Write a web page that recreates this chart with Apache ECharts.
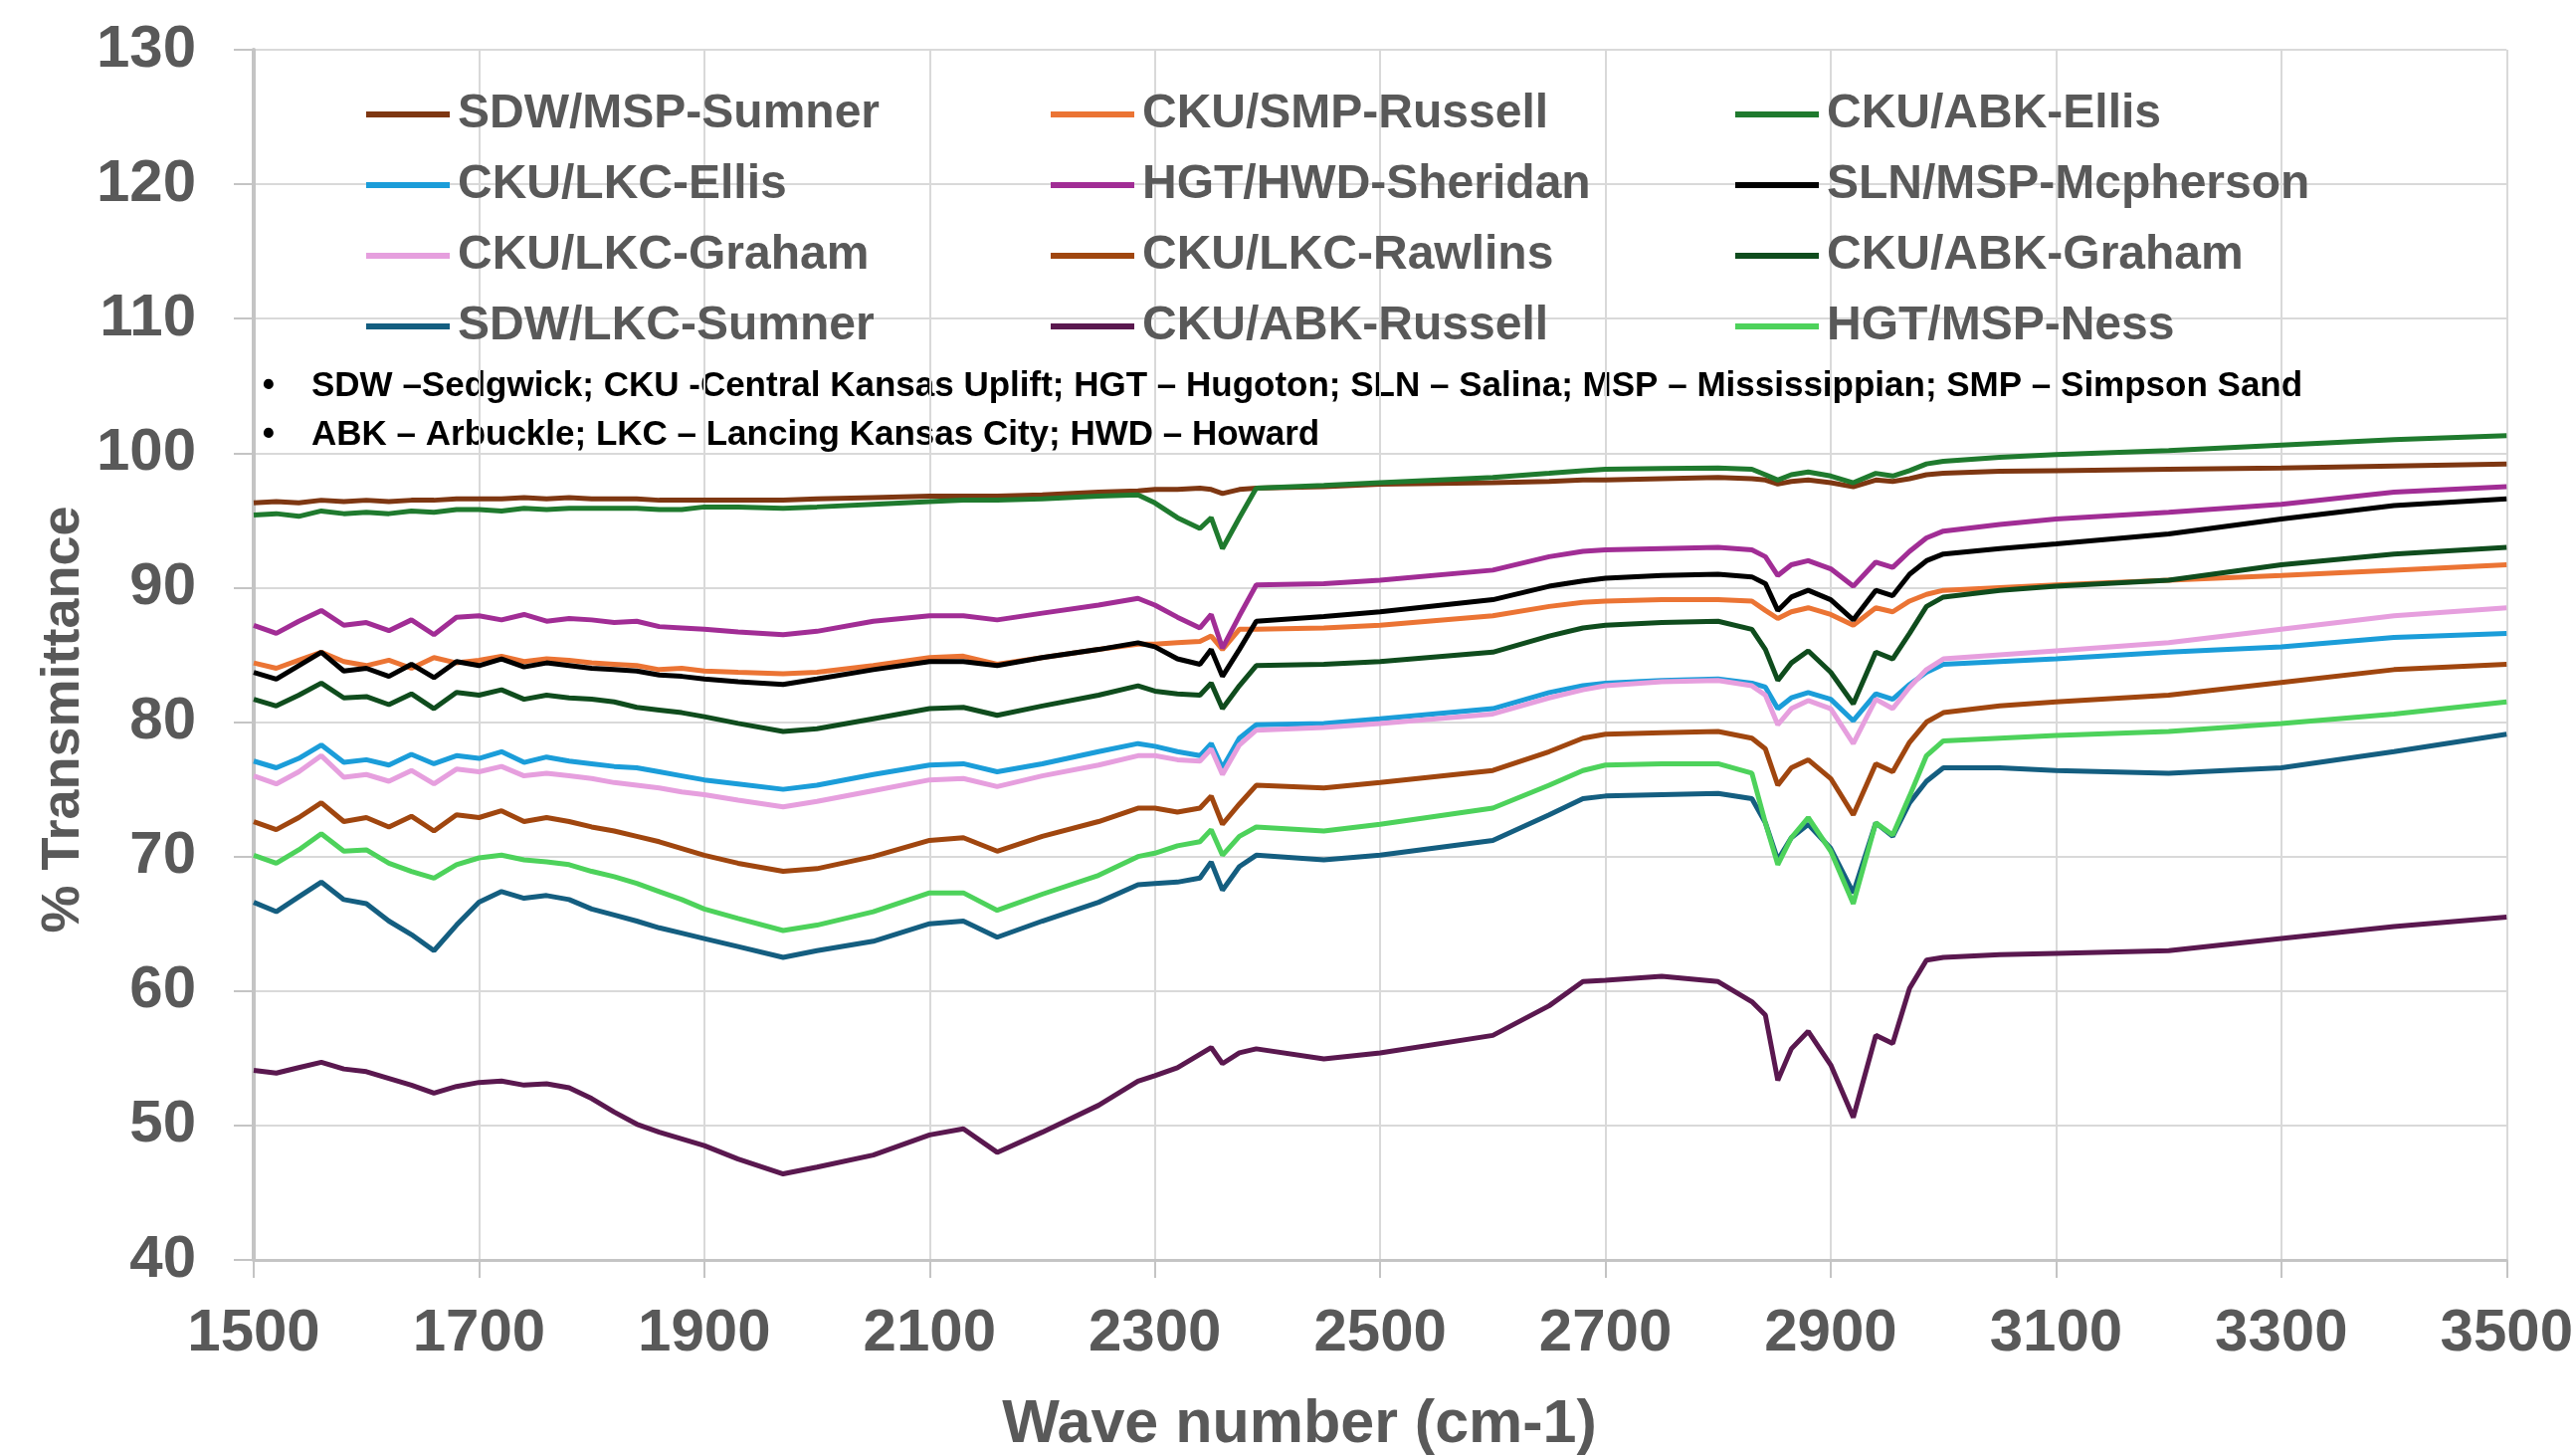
<!DOCTYPE html>
<html>
<head>
<meta charset="utf-8">
<title>FTIR transmittance</title>
<script src="https://cdn.jsdelivr.net/npm/echarts@6/dist/echarts.min.js"></script>
<style>
  html, body { margin: 0; padding: 0; background: #fff; }
  #main { width: 2589px; height: 1462px; }
</style>
</head>
<body>
<div id="main"></div>
<script>
// wave numbers (cm-1) shared by every spectrum
var wn = [1500,1520,1540,1560,1580,1600,1620,1640,1660,1680,1700,1720,1740,1760,1780,1800,1820,1840,1860,1880,
  1900,1930,1970,2000,2050,2100,2130,2160,2200,2250,
  2285,2300,2320,2340,2350,2360,2375,2390,
  2450,2500,2600,2650,2680,2700,2750,2800,2830,
  2842,2853,2865,2880,2900,2920,2940,2955,2970,2985,
  3000,3050,3100,3200,3300,3400,3500];

var sdwMspSumner = [96.3,96.4,96.3,96.5,96.4,96.5,96.4,96.5,96.5,96.6,96.6,96.6,96.7,96.6,96.7,96.6,96.6,96.6,96.5,96.5,
  96.5,96.5,96.5,96.6,96.7,96.8,96.8,96.8,96.9,97.1,
  97.2,97.3,97.3,97.4,97.3,97.0,97.3,97.4,
  97.5,97.7,97.8,97.9,98.0,98.0,98.1,98.2,98.1,
  98.0,97.7,97.9,98.0,97.8,97.5,98.0,97.9,98.1,98.4,
  98.5,98.65,98.7,98.8,98.9,99.05,99.2];
var ckuSmpRussell = [84.4,84.0,84.6,85.2,84.5,84.2,84.6,84.0,84.8,84.4,84.6,84.9,84.5,84.7,84.6,84.4,84.3,84.2,83.9,84.0,
  83.8,83.7,83.6,83.7,84.2,84.8,84.9,84.3,84.8,85.4,
  85.8,85.8,85.9,86.0,86.4,85.4,86.9,86.9,
  87.0,87.2,87.9,88.6,88.9,89.0,89.1,89.1,89.0,
  88.3,87.7,88.2,88.5,88.0,87.2,88.5,88.2,89.0,89.5,
  89.8,90.0,90.2,90.55,90.9,91.3,91.7];
var ckuAbkEllis = [95.4,95.5,95.3,95.7,95.5,95.6,95.5,95.7,95.6,95.8,95.8,95.7,95.9,95.8,95.9,95.9,95.9,95.9,95.8,95.8,
  96.0,96.0,95.9,96.0,96.2,96.4,96.5,96.5,96.6,96.8,
  96.9,96.3,95.2,94.4,95.2,92.9,95.2,97.4,
  97.6,97.8,98.2,98.5,98.7,98.8,98.85,98.9,98.8,
  98.4,98.0,98.4,98.6,98.3,97.8,98.5,98.3,98.7,99.2,
  99.4,99.7,99.9,100.2,100.6,101.0,101.3];
var ckuLkcEllis = [77.1,76.6,77.3,78.3,77.0,77.2,76.8,77.6,76.9,77.5,77.3,77.8,77.0,77.4,77.1,76.9,76.7,76.6,76.3,76.0,
  75.7,75.4,75.0,75.3,76.1,76.8,76.9,76.3,76.9,77.8,
  78.4,78.2,77.8,77.5,78.4,76.6,78.8,79.8,
  79.9,80.25,81.0,82.2,82.7,82.9,83.1,83.2,82.9,
  82.6,81.0,81.8,82.2,81.7,80.1,82.1,81.7,82.8,83.7,
  84.3,84.5,84.7,85.2,85.6,86.3,86.6];
var hgtHwdSheridan = [87.2,86.6,87.5,88.3,87.2,87.4,86.8,87.6,86.5,87.8,87.9,87.6,88.0,87.5,87.7,87.6,87.4,87.5,87.1,87.0,
  86.9,86.7,86.5,86.75,87.5,87.9,87.9,87.6,88.1,88.7,
  89.2,88.7,87.8,87.0,88.0,85.5,87.9,90.2,
  90.3,90.55,91.3,92.3,92.7,92.8,92.9,93.0,92.8,
  92.3,90.9,91.7,92.0,91.4,90.1,91.9,91.5,92.7,93.7,
  94.2,94.7,95.1,95.6,96.2,97.1,97.5];
var slnMspMcpherson = [83.7,83.2,84.2,85.2,83.8,84.0,83.4,84.3,83.3,84.5,84.2,84.7,84.1,84.4,84.2,84.0,83.9,83.8,83.5,83.4,
  83.2,83.0,82.8,83.2,83.9,84.5,84.5,84.2,84.8,85.4,
  85.9,85.6,84.7,84.3,85.4,83.4,85.4,87.5,
  87.85,88.2,89.1,90.1,90.5,90.7,90.9,91.0,90.8,
  90.3,88.3,89.3,89.8,89.1,87.6,89.8,89.4,91.0,92.0,
  92.5,92.9,93.25,94.0,95.1,96.1,96.6];
var ckuLkcGraham = [76.0,75.4,76.3,77.5,75.9,76.1,75.6,76.4,75.4,76.5,76.3,76.7,76.0,76.2,76.0,75.8,75.5,75.3,75.1,74.8,
  74.6,74.2,73.7,74.1,74.9,75.7,75.8,75.2,76.0,76.8,
  77.5,77.5,77.2,77.1,78.0,76.1,78.3,79.4,
  79.6,79.9,80.6,81.8,82.4,82.7,83.0,83.1,82.7,
  82.0,79.8,81.0,81.6,81.0,78.4,81.7,81.0,82.6,83.9,
  84.7,85.0,85.3,85.9,86.9,87.9,88.5];
var ckuLkcRawlins = [72.6,72.0,72.9,74.0,72.6,72.9,72.2,73.0,71.9,73.1,72.9,73.4,72.6,72.9,72.6,72.2,71.9,71.5,71.1,70.6,
  70.1,69.5,68.9,69.1,70.0,71.2,71.4,70.4,71.5,72.6,
  73.6,73.6,73.3,73.6,74.5,72.4,73.9,75.3,
  75.1,75.5,76.4,77.8,78.8,79.1,79.2,79.3,78.8,
  78.0,75.3,76.6,77.2,75.8,73.1,76.9,76.3,78.5,80.0,
  80.7,81.2,81.5,82.0,82.95,83.9,84.3];
var ckuAbkGraham = [81.7,81.2,82.0,82.9,81.8,81.9,81.3,82.1,81.0,82.2,82.0,82.4,81.7,82.0,81.8,81.7,81.5,81.1,80.9,80.7,
  80.4,79.9,79.3,79.5,80.25,81.0,81.1,80.5,81.2,82.0,
  82.7,82.3,82.1,82.0,82.9,81.0,82.7,84.2,
  84.3,84.5,85.2,86.4,87.0,87.2,87.4,87.5,86.9,
  85.4,83.1,84.4,85.3,83.7,81.35,85.2,84.7,86.6,88.6,
  89.3,89.8,90.1,90.55,91.7,92.5,93.0];
var sdwLkcSumner = [66.6,65.9,67.0,68.1,66.8,66.5,65.2,64.2,63.0,64.9,66.6,67.4,66.9,67.1,66.8,66.1,65.65,65.2,64.7,64.3,
  63.9,63.3,62.5,63.0,63.7,65.0,65.2,64.0,65.2,66.6,
  67.9,68.0,68.1,68.4,69.6,67.5,69.25,70.1,
  69.75,70.1,71.2,73.1,74.3,74.5,74.6,74.7,74.3,
  72.5,69.75,71.4,72.4,70.6,67.3,72.5,71.5,74.0,75.6,
  76.6,76.6,76.4,76.2,76.6,77.8,79.1];
var ckuAbkRussell = [54.1,53.9,54.3,54.7,54.2,54.0,53.5,53.0,52.4,52.9,53.2,53.3,53.0,53.1,52.8,52.0,51.0,50.1,49.5,49.0,
  48.5,47.5,46.4,46.9,47.8,49.3,49.75,48.0,49.5,51.5,
  53.3,53.7,54.3,55.3,55.8,54.6,55.4,55.7,
  54.95,55.4,56.7,58.9,60.7,60.8,61.1,60.7,59.2,
  58.2,53.35,55.7,57.0,54.5,50.6,56.7,56.1,60.2,62.3,
  62.5,62.7,62.8,63.0,63.9,64.8,65.5];
var hgtMspNess = [70.1,69.5,70.5,71.7,70.4,70.5,69.5,68.9,68.4,69.4,69.9,70.1,69.75,69.6,69.4,68.9,68.5,68.0,67.4,66.8,
  66.1,65.4,64.5,64.9,65.9,67.3,67.3,66.0,67.2,68.6,
  70.0,70.25,70.8,71.1,72.0,70.1,71.5,72.2,
  71.9,72.4,73.6,75.3,76.4,76.8,76.9,76.9,76.2,
  72.5,69.4,71.4,72.9,70.4,66.5,72.5,71.6,74.5,77.5,
  78.6,78.8,79.0,79.3,79.9,80.6,81.5];

var names = ['SDW/MSP-Sumner', 'CKU/SMP-Russell', 'CKU/ABK-Ellis',
  'CKU/LKC-Ellis', 'HGT/HWD-Sheridan', 'SLN/MSP-Mcpherson',
  'CKU/LKC-Graham', 'CKU/LKC-Rawlins', 'CKU/ABK-Graham',
  'SDW/LKC-Sumner', 'CKU/ABK-Russell', 'HGT/MSP-Ness'];
var values = [sdwMspSumner, ckuSmpRussell, ckuAbkEllis,
  ckuLkcEllis, hgtHwdSheridan, slnMspMcpherson,
  ckuLkcGraham, ckuLkcRawlins, ckuAbkGraham,
  sdwLkcSumner, ckuAbkRussell, hgtMspNess];
var colors = ['#7E3712', '#EB7434', '#1F7A2E',
  '#1B9DD9', '#A12D95', '#000000',
  '#E69FDE', '#A0460F', '#0F4C1D',
  '#145E80', '#5A184F', '#4DD25B'];

var notes = [
  'SDW \u2013Sedgwick; CKU -Central Kansas Uplift; HGT \u2013 Hugoton; SLN \u2013 Salina; MSP \u2013 Mississippian; SMP \u2013 Simpson Sand',
  'ABK \u2013 Arbuckle; LKC \u2013 Lancing Kansas City; HWD \u2013 Howard'
];

var grey = '#595959';
var font = 'Liberation Sans, Arial, sans-serif';

var myChart = echarts.init(document.getElementById('main'));

var series = names.map(function (n, k) {
  return {
    name: n,
    type: 'line',
    showSymbol: false,
    data: wn.map(function (x, i) { return [x, values[k][i]]; }),
    lineStyle: { width: 5, color: colors[k] },
    itemStyle: { color: colors[k] },
    emphasis: { disabled: true }
  };
});

function legendCol(col, left) {
  return {
    left: left,
    top: 90,
    orient: 'vertical',
    padding: 0,
    itemGap: 21,
    itemWidth: 84,
    itemHeight: 6,
    icon: 'rect',
    selectedMode: false,
    data: [names[col], names[col + 3], names[col + 6], names[col + 9]],
    textStyle: { color: grey, fontSize: 48, fontWeight: 'bold', fontFamily: font, lineHeight: 50, padding: [0, 0, 0, 3] }
  };
}

var option = {
  animation: false,
  backgroundColor: '#ffffff',
  grid: { left: 255, right: 68, top: 50, bottom: 196 },
  legend: [legendCol(0, 368), legendCol(1, 1056), legendCol(2, 1744)],
  xAxis: {
    type: 'value',
    min: 1500,
    max: 3500,
    interval: 200,
    axisLine: { show: true, lineStyle: { color: '#c4c4c4', width: 3 } },
    axisTick: { show: true, length: 18, lineStyle: { color: '#c4c4c4', width: 2 } },
    axisLabel: {
      color: grey, fontSize: 60, fontWeight: 'bold', fontFamily: font, margin: 44,
      formatter: function (v) { return String(v); }
    },
    splitLine: { show: true, lineStyle: { color: '#d9d9d9', width: 2 } }
  },
  yAxis: {
    type: 'value',
    min: 40,
    max: 130,
    interval: 10,
    axisLine: { show: true, lineStyle: { color: '#c4c4c4', width: 4 } },
    axisTick: { show: true, length: 20, lineStyle: { color: '#c4c4c4', width: 2 } },
    axisLabel: { color: grey, fontSize: 60, fontWeight: 'bold', fontFamily: font, margin: 58 },
    splitLine: { show: true, lineStyle: { color: '#d9d9d9', width: 2 } }
  },
  graphic: [
    { type: 'text', x: 270, y: 388, style: { text: '\u2022', fontSize: 35, fontWeight: 'bold', fontFamily: font, fill: '#000', align: 'center', verticalAlign: 'middle' } },
    { type: 'text', x: 313, y: 388, style: { text: notes[0], fontSize: 35, fontWeight: 'bold', fontFamily: font, fill: '#000', align: 'left', verticalAlign: 'middle' } },
    { type: 'text', x: 270, y: 437, style: { text: '\u2022', fontSize: 35, fontWeight: 'bold', fontFamily: font, fill: '#000', align: 'center', verticalAlign: 'middle' } },
    { type: 'text', x: 313, y: 437, style: { text: notes[1], fontSize: 35, fontWeight: 'bold', fontFamily: font, fill: '#000', align: 'left', verticalAlign: 'middle' } },
    { type: 'text', x: 64, y: 723, rotation: Math.PI / 2, style: { text: '% Transmittance', fontSize: 54, fontWeight: 'bold', fontFamily: font, fill: grey, align: 'center', verticalAlign: 'middle' } },
    { type: 'text', x: 1306, y: 1432, style: { text: 'Wave number (cm-1)', fontSize: 61, fontWeight: 'bold', fontFamily: font, fill: grey, align: 'center', verticalAlign: 'middle' } }
  ],
  series: series
};

myChart.setOption(option);
</script>
</body>
</html>
